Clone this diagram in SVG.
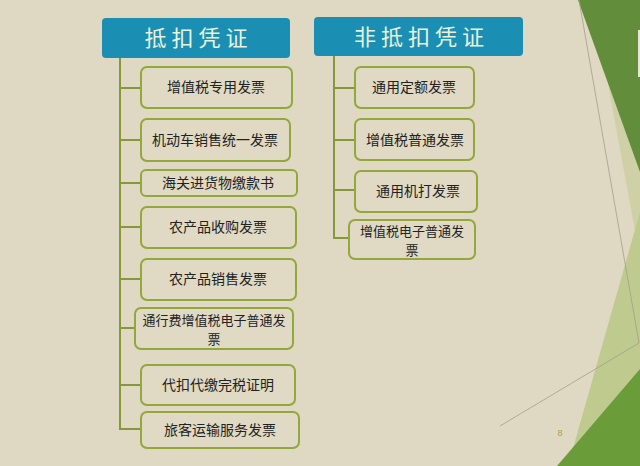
<svg xmlns="http://www.w3.org/2000/svg" width="640" height="466" viewBox="0 0 640 466">
<style>
.bg{fill:#dfd8c3}
.hdr{fill:#1a8fb3}
.htxt{font-family:"Noto Sans CJK SC","Noto Sans",sans-serif;font-size:22px;fill:#e8f2dc;letter-spacing:5px;text-anchor:middle}
.box{fill:#e0d9c4;stroke:#93a83c;stroke-width:2}
.txt{font-family:"Noto Sans CJK SC","Noto Sans",sans-serif;font-size:14px;fill:#222;text-anchor:middle}
.txt2{font-family:"Noto Sans CJK SC","Noto Sans",sans-serif;font-size:13px;fill:#222;text-anchor:middle}
.con{stroke:#86993a;stroke-width:2;fill:none}
.pg{font-family:"Liberation Sans",sans-serif;font-size:9px;fill:#9aa84a;text-anchor:middle}
</style>
<rect class="bg" x="0" y="0" width="640" height="466"/>
<g id="decor">
<polygon points="608,84 640,170 640,258" fill="#cfd0a6"/>
<polygon points="640,212 568,466 640,466" fill="#bfca8e"/>
<polygon points="578,0 640,0 640,172" fill="#628d3a"/>
<polygon points="557,466 640,369 640,466" fill="#6a9c3a"/>
<line x1="579" y1="0" x2="639" y2="343" stroke="#a39f8c" stroke-width="0.8"/>
<line x1="639" y1="343" x2="500" y2="426" stroke="#a39f8c" stroke-width="0.8"/>
<rect x="638" y="30" width="2" height="47" fill="#e8e4da"/>
<text class="pg" x="560" y="436">8</text>
</g>
<g id="connectors">
<line class="con" x1="120" y1="58" x2="120" y2="430"/>
<line class="con" x1="119" y1="88" x2="141" y2="88"/>
<line class="con" x1="119" y1="140" x2="141" y2="140"/>
<line class="con" x1="119" y1="183" x2="141" y2="183"/>
<line class="con" x1="119" y1="227" x2="141" y2="227"/>
<line class="con" x1="119" y1="279" x2="141" y2="279"/>
<line class="con" x1="119" y1="328" x2="135" y2="328"/>
<line class="con" x1="119" y1="385" x2="141" y2="385"/>
<line class="con" x1="119" y1="429" x2="141" y2="429"/>
<line class="con" x1="334" y1="56" x2="334" y2="239"/>
<line class="con" x1="333" y1="88" x2="355" y2="88"/>
<line class="con" x1="333" y1="140" x2="355" y2="140"/>
<line class="con" x1="333" y1="190" x2="355" y2="190"/>
<line class="con" x1="333" y1="238" x2="349" y2="238"/>
</g>
<g id="h1">
<rect class="hdr" x="102" y="18" width="188" height="40" rx="4"/>
<text class="htxt" x="198.5" y="46">抵扣凭证</text>
</g>
<g id="h2">
<rect class="hdr" x="314" y="17" width="209" height="39" rx="4"/>
<text class="htxt" x="421.5" y="45">非抵扣凭证</text>
</g>
<g id="l1"><rect class="box" x="141" y="67" width="151" height="41" rx="6"/><text class="txt" x="216" y="92">增值税专用发票</text></g>
<g id="l2"><rect class="box" x="141" y="119" width="149" height="42" rx="6"/><text class="txt" x="215" y="145">机动车销售统一发票</text></g>
<g id="l3"><rect class="box" x="141" y="170" width="156" height="26" rx="5"/><text class="txt" x="218" y="188">海关进货物缴款书</text></g>
<g id="l4"><rect class="box" x="141" y="207" width="155" height="41" rx="6"/><text class="txt" x="218" y="232">农产品收购发票</text></g>
<g id="l5"><rect class="box" x="141" y="259" width="155" height="41" rx="6"/><text class="txt" x="218" y="284">农产品销售发票</text></g>
<g id="l6"><rect class="box" x="135" y="308" width="158" height="41" rx="6"/><text class="txt2" x="214" y="325">通行费增值税电子普通发</text><text class="txt2" x="214" y="344">票</text></g>
<g id="l7"><rect class="box" x="141" y="365" width="154" height="40" rx="6"/><text class="txt" x="218" y="390">代扣代缴完税证明</text></g>
<g id="l8"><rect class="box" x="141" y="412" width="158" height="36" rx="6"/><text class="txt" x="220" y="435">旅客运输服务发票</text></g>
<g id="r1"><rect class="box" x="355" y="67" width="119" height="41" rx="6"/><text class="txt" x="414" y="92">通用定额发票</text></g>
<g id="r2"><rect class="box" x="355" y="119" width="119" height="41" rx="6"/><text class="txt" x="415" y="145">增值税普通发票</text></g>
<g id="r3"><rect class="box" x="355" y="171" width="122" height="41" rx="6"/><text class="txt" x="418" y="196">通用机打发票</text></g>
<g id="r4"><rect class="box" x="349" y="220" width="126" height="39" rx="6"/><text class="txt2" x="412" y="236">增值税电子普通发</text><text class="txt2" x="412" y="255">票</text></g>
</svg>
